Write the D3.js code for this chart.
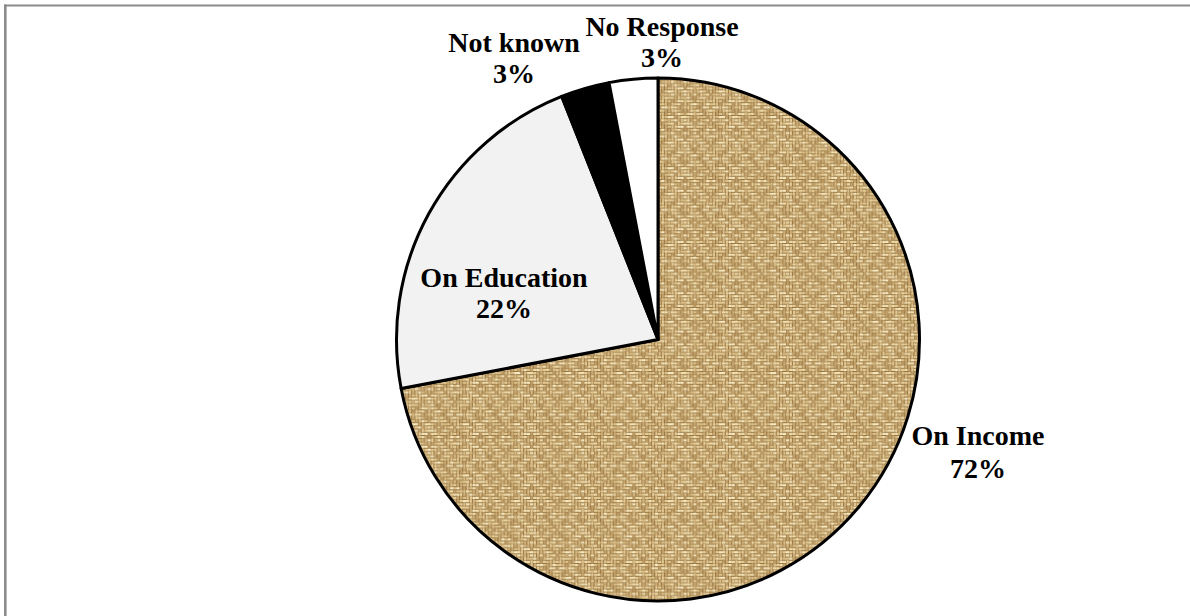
<!DOCTYPE html>
<html>
<head>
<meta charset="utf-8">
<script src="https://cdn.jsdelivr.net/npm/d3@7"></script>
<style>
  html, body { margin: 0; padding: 0; background: #ffffff; }
  svg { display: block; }
</style>
</head>
<body>
<script>
// Where the money is spent: share of responses by category
const categories = ["On Income", "On Education", "Not known", "No Response"];
const shares = [72, 22, 3, 3];
const valueLabels = ["72%", "22%", "3%", "3%"];

const W = 1190, H = 616;
const cx = 658, cy = 339.5, radius = 261.5;

// slice fills, in category order
const fills = ["url(#burlap)", "#f2f2f2", "#000000", "#ffffff"];
// label anchor offsets from the pie centre (first-line baseline) and line gap
const labelOffsets = [
  { dx: 320, dy: 105.5, gap: 32.5 },
  { dx: -154, dy: -52.8, gap: 30.8 },
  { dx: -144, dy: -287.8, gap: 31 },
  { dx: 4, dy: -303.5, gap: 31.3 }
];

const svg = d3.select("body").append("svg")
  .attr("width", W).attr("height", H);

// coarse woven burlap texture: irregular over/under weave of short floats
const defs = svg.append("defs");
defs.append("filter").attr("id", "soft")
  .attr("x", 0).attr("y", 0).attr("width", 1).attr("height", 1)
  .append("feGaussianBlur").attr("stdDeviation", 0.65);

const cell = 3.2, n = 16, tile = cell * n;
const pat = defs.append("pattern")
  .attr("id", "burlap")
  .attr("patternUnits", "userSpaceOnUse")
  .attr("width", tile).attr("height", tile);
const pg = pat.append("g").attr("filter", "url(#soft)");
pg.append("rect").attr("width", tile).attr("height", tile).attr("fill", "#957442");
const cells = d3.cross(d3.range(n), d3.range(n));
const lightH = ["#f2deae", "#e6cd97", "#dcc28a", "#f7e8bf"];
const lightV = ["#d9bc86", "#ccad76", "#e5cb96", "#c2a26b"];
// weave rule: twill blocks whose direction and phase change every 4 cells
function overAt(i, j) {
  const bi = i >> 2, bj = j >> 2;
  const dir = (bi + bj) % 2 === 0 ? 1 : -1;
  const phase = (bi * 3 + bj * 2) % 4;
  const k = i + dir * j + phase;
  return (((k % 4) + 4) % 4) < 2;
}
pg.selectAll("rect.c").data(cells).join("rect")
  .attr("class", "c")
  .each(function ([i, j]) {
    const shade = (i * 7 + j * 5 + ((i * j) % 3)) % 4;
    const s = d3.select(this);
    if (overAt(i, j)) {
      s.attr("x", i * cell).attr("y", j * cell + 0.5)
        .attr("width", cell).attr("height", cell - 1.0)
        .attr("fill", lightH[shade]);
    } else {
      s.attr("x", i * cell + 0.5).attr("y", j * cell)
        .attr("width", cell - 1.0).attr("height", cell)
        .attr("fill", lightV[shade]);
    }
  });

// frame lines along the top and left
svg.append("line").attr("x1", 4).attr("x2", W).attr("y1", 5.5).attr("y2", 5.5)
  .attr("stroke", "#8c8c8c").attr("stroke-width", 2);
svg.append("line").attr("x1", 5.3).attr("x2", 5.3).attr("y1", 4.5).attr("y2", H)
  .attr("stroke", "#8c8c8c").attr("stroke-width", 2.6);

const pie = d3.pie().sort(null).value(d => d)
  .startAngle(0).endAngle(2 * Math.PI);
const arcs = pie(shares);
const arc = d3.arc().innerRadius(0).outerRadius(radius);

const g = svg.append("g").attr("transform", `translate(${cx},${cy})`);
g.selectAll("path.slice").data(arcs).join("path")
  .attr("class", "slice")
  .attr("d", arc)
  .attr("fill", (d, i) => fills[i])
  .attr("stroke", "#000")
  .attr("stroke-width", 3)
  .attr("stroke-linejoin", "round");

const labels = g.selectAll("text.lbl").data(arcs).join("text")
  .attr("class", "lbl")
  .attr("text-anchor", "middle")
  .attr("font-family", "'Liberation Serif', 'Times New Roman', serif")
  .attr("font-weight", "bold")
  .attr("font-size", 28)
  .attr("fill", "#000");
labels.append("tspan")
  .attr("x", (d, i) => labelOffsets[i].dx)
  .attr("y", (d, i) => labelOffsets[i].dy)
  .text((d, i) => categories[i]);
labels.append("tspan")
  .attr("x", (d, i) => labelOffsets[i].dx)
  .attr("y", (d, i) => labelOffsets[i].dy + labelOffsets[i].gap)
  .text((d, i) => valueLabels[i]);
</script>
</body>
</html>
